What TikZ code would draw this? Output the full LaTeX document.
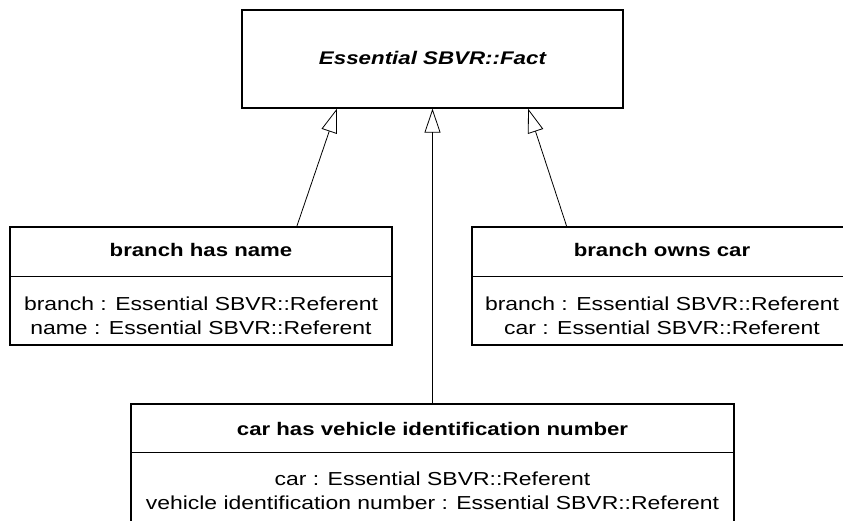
\documentclass[tikz,border=0pt]{standalone}
\usepackage{fontspec}
\newfontfamily\umlfont{Liberation Sans}[FakeStretch=1.22]
\newcommand{\umlsize}{\fontsize{18.2}{24}\selectfont}
\newcommand{\attrsize}{\fontsize{18.8}{24}\selectfont}
\newcommand{\titlesize}{\fontsize{18.3}{24}\selectfont}
\usetikzlibrary{arrows.meta,calc}

\tikzset{
  classbox/.style={draw, line width=1.3pt, inner sep=0pt},
  classname/.style={anchor=base, font=\umlfont\umlsize\bfseries},
  attrline/.style={anchor=base, font=\umlfont\attrsize},
  generalization/.style={line width=0.8pt, -{Triangle[open,length=24pt,width=16pt]}},
}

\begin{document}
\begin{tikzpicture}[x=1pt, y=-1pt]
        \useasboundingbox (0,0) rectangle (843,521);
        \clip (0,0) rectangle (843,521);

        % Classes
        \node[classbox, minimum width=381pt, minimum height=98pt] (fact) at (432.5,59) {};
        \node[classbox, minimum width=382pt, minimum height=118pt] (hasname) at (201,286) {};
        \node[classbox, minimum width=380pt, minimum height=118pt] (ownscar) at (662,286) {};
        \node[classbox, minimum width=603pt, minimum height=130pt] (hasvin) at (432.5,469) {};

        % Compartment lines
        \draw[line width=0.9pt] ($(hasname.north west)+(0,50)$) -- ($(hasname.north east)+(0,50)$);
        \draw[line width=0.9pt] ($(ownscar.north west)+(0,50)$) -- ($(ownscar.north east)+(0,50)$);
        \draw[line width=0.9pt] ($(hasvin.north west)+(0,49)$) -- ($(hasvin.north east)+(0,49)$);

        % Names
        \node[classname, font=\umlfont\titlesize\bfseries\itshape] (factname) at (432.5,65) {Essential SBVR::Fact};
        \node[classname] (hasnamename) at (201,257) {branch has name};
        \node[classname] (ownscarname) at (662,257) {branch owns car};
        \node[classname] (hasvinname) at (432.5,435) {car has vehicle identification number};

        % Attributes
        \node[attrline] (hasnameA) at (201,310) {branch : Essential SBVR::Referent};
        \node[attrline] (hasnameB) at (201,334) {name : Essential SBVR::Referent};
        \node[attrline] (ownscarA) at (662,310) {branch : Essential SBVR::Referent};
        \node[attrline] (ownscarB) at (662,334) {car : Essential SBVR::Referent};
        \node[attrline] (hasvinA) at (432.5,485) {car : Essential SBVR::Referent};
        \node[attrline] (hasvinB) at (432.5,509) {vehicle identification number : Essential SBVR::Referent};

        % Generalizations
        \draw[generalization] ($(hasname.north west)!0.75!(hasname.north east)$) -- ($(fact.south west)!0.25!(fact.south east)$);
        \draw[generalization] (hasvin.north) -- (fact.south);
        \draw[generalization] ($(ownscar.north west)!0.25!(ownscar.north east)$) -- ($(fact.south west)!0.75!(fact.south east)$);
      \end{tikzpicture}
\end{document}
